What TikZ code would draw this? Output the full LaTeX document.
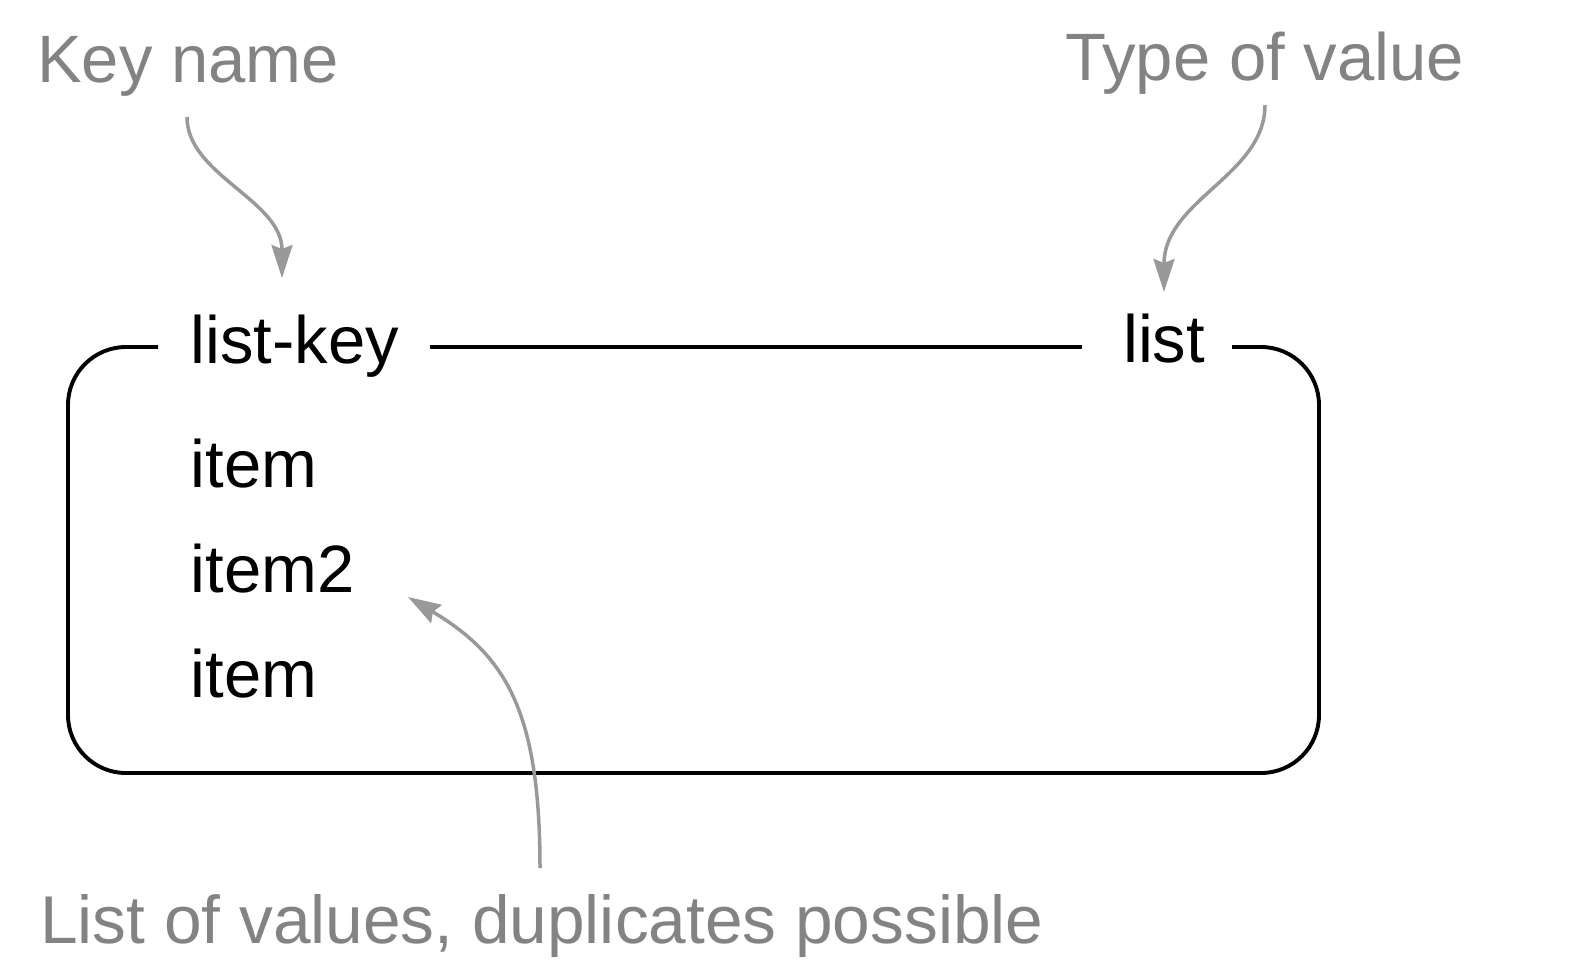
\documentclass[tikz,border=0pt]{standalone}
\usepackage{fontspec}
\setmainfont{Liberation Sans}
\usetikzlibrary{arrows.meta}
\definecolor{labelgray}{HTML}{838383}
\definecolor{arrowgray}{HTML}{999999}
\tikzset{
  boxline/.style={draw=black, line width=3.9pt},
  pointer/.style={draw=arrowgray, line width=3.5pt, -{Stealth[length=33pt,width=21pt,inset=4pt]}},
  maintext/.style={anchor=base west, inner sep=0pt, text=black, font=\fontsize{67}{80}\selectfont},
  graytext/.style={anchor=base west, inner sep=0pt, text=labelgray, font=\fontsize{67}{80}\selectfont},
}
\begin{document}
\begin{tikzpicture}[x=1pt,y=-1pt]
\useasboundingbox (0,0) rectangle (1590,962);
% labels
\node[graytext] (keyname) at (37,82) {Key name};
\node[graytext] (typeval) at (1065,80) {Type of value};
\node[graytext, font=\fontsize{67.6}{80}\selectfont] (listvals) at (40,943) {List of values, duplicates possible};
% box contents
\node[maintext] (listkey) at (190.5,363) {list-key};
\node[maintext] (listtype) at (1123,362) {list};
\node[maintext] (item1) at (190.5,487) {item};
\node[maintext] (item2) at (190.5,592) {item2};
\node[maintext] (item3) at (190.5,697) {item};
% box
\draw[boxline, rounded corners=58pt] (158,347) -- (68,347) -- (68,773)
  -- (1319,773) -- (1319,347) -- (1232,347);
\draw[boxline] (430,347) -- (1082,347);
% pointers
\coordinate (p1s) at (187,117);
\coordinate (p1e) at (282,278);
\coordinate (p2s) at (1265,105);
\coordinate (p2e) at (1164,292);
\coordinate (p3s) at (540,868);
\coordinate (p3e) at (408,597);
\draw[pointer] (p1s) .. controls (187,175) and (282,200) .. (p1e);
\draw[pointer] (p2s) .. controls (1265,175) and (1164,200) .. (p2e);
\draw[pointer] (p3s) .. controls (540,710) and (505,655) .. (p3e);
\end{tikzpicture}
\end{document}
